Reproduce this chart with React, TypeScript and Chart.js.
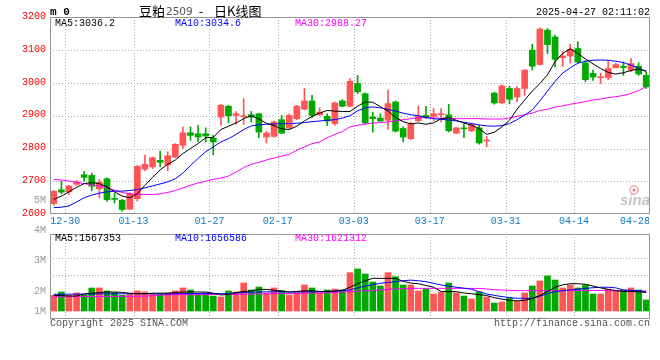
import React, { useEffect, useRef } from 'react';
import { Chart, registerables } from 'chart.js';
Chart.register(...registerables);

const dates = [
  '12-26','12-27','12-30','12-31','01-02','01-03','01-06','01-07','01-08','01-09','01-10','01-13','01-14','01-15','01-16','01-17','01-20','01-21','01-22','01-23','01-24','01-27',
  '02-05','02-06','02-07','02-10','02-11','02-12','02-13','02-14','02-17','02-18','02-19','02-20','02-21','02-24','02-25','02-26','02-27','02-28',
  '03-03','03-04','03-05','03-06','03-07','03-10','03-11','03-12','03-13','03-14','03-17','03-18','03-19','03-20','03-21','03-24','03-25','03-26','03-27','03-28','03-31',
  '04-01','04-02','04-03','04-07','04-08','04-09','04-10','04-11','04-14','04-15','04-16','04-17','04-18','04-21','04-22','04-23','04-24','04-25'
];

const openP = [
  2632,2674,2668,2691,2720,2718,2677,2708,2647,2642,
  2615,2647,2737,2744,2764,2750,2774,2810,2848,2845,
  2845,2832,2896,2929,2901,2897,2903,2906,2835,2837,
  2888,2863,2891,2920,2945,2903,2898,2876,2945,2929,
  2998,2967,2896,2893,2886,2942,2861,2830,2885,2901,
  2898,2903,2903,2847,2862,2854,2863,2823,2969,2939,
  2983,2957,2983,3100,3056,3161,3140,3077,3082,3105,
  3061,3029,3016,3016,3046,3051,3039,3051,3023
];
const highP = [
  2672,2700,2688,2702,2730,2725,2705,2711,2664,2645,
  2666,2749,2780,2774,2792,2790,2815,2866,2866,2871,
  2863,2840,2935,2932,2913,2952,2913,2908,2853,2884,
  2901,2906,2932,2983,2962,2924,2906,2942,2949,3013,
  3023,2970,2911,2906,2978,2945,2866,2881,2929,2929,
  2922,2922,2935,2864,2876,2878,2871,2837,2972,2994,
  2990,2989,3041,3118,3168,3166,3146,3095,3118,3125,
  3067,3039,3030,3067,3060,3064,3074,3062,3033
];
const lowP = [
  2627,2662,2660,2688,2700,2671,2650,2639,2634,2609,
  2614,2640,2732,2739,2744,2732,2772,2800,2825,2822,
  2820,2781,2871,2878,2874,2874,2881,2833,2817,2835,
  2845,2861,2888,2918,2894,2901,2870,2871,2927,2927,
  2967,2876,2850,2881,2858,2850,2820,2827,2882,2891,
  2884,2881,2851,2845,2833,2851,2813,2805,2935,2936,
  2936,2943,2962,3039,3054,3090,3049,3050,3061,3061,
  3004,3008,2998,3010,3046,3023,3034,3023,2983
];
const closeP = [
  2670,2667,2686,2698,2712,2685,2697,2644,2645,2614,
  2662,2746,2752,2772,2758,2778,2813,2848,2840,2835,
  2838,2820,2932,2900,2906,2900,2896,2850,2847,2881,
  2847,2901,2929,2945,2901,2911,2884,2939,2929,3005,
  2973,2878,2891,2884,2937,2853,2835,2876,2899,2894,
  2906,2906,2854,2863,2860,2873,2817,2826,2939,2991,
  2950,2983,3039,3051,3164,3117,3072,3082,3102,3064,
  3010,3018,3019,3044,3056,3047,3059,3027,2988
];

const ma5 = [
  2645,2655,2668,2682,2693,2696,2693,2683,2668,2655,2650,2662,2688,2712,2735,2752,2765,2785,2800,2815,2833,2834,
  2858,2868,2878,2891,2900,2890,2877,2870,2860,2858,2868,2884,2898,2908,2916,2914,2913,2913,2929,2942,2941,2928,2914,2895,2882,2875,
  2878,2874,2878,2891,2894,2886,2878,2871,2861,2843,2850,2866,2886,2920,2948,2975,2998,3025,3065,3090,3104,3090,3073,3058,3044,3032,3027,3031,3038,3042,3036.2
];
const ma10 = [
  2620,2621,2625,2637,2650,2658,2664,2668,2670,2670,2672,2675,2680,2686,2692,2698,2708,2725,2748,2770,2790,2805,
  2820,2830,2843,2858,2869,2872,2874,2875,2876,2876,2877,2879,2882,2884,2886,2888,2893,2900,2915,2924,2927,2924,2919,2914,2908,2903,
  2900,2895,2891,2889,2887,2884,2880,2876,2872,2869,2868,2870,2876,2888,2902,2918,2945,2975,3005,3030,3046,3060,3066,3069,3070,3069,3066,3062,3054,3045,3034.6
];
const ma30 = [
  2706,2704,2701,2697,2693,2689,2686,2680,2673,2666,2662,2660,2660,2660,2662,2666,2672,2680,2688,2695,2700,2706,
  2710,2716,2728,2742,2752,2758,2765,2771,2777,2782,2795,2805,2815,2820,2833,2843,2852,2866,2871,2874,2878,2879,2881,2884,2888,2891,
  2894,2894,2893,2892,2892,2891,2891,2891,2891,2890,2890,2890,2893,2898,2903,2908,2916,2920,2926,2930,2935,2939,2943,2948,2951,2955,2958,2962,2968,2977,2988.27
];

const volume = [
  1320000,1600000,1320000,1520000,1320000,1940000,1940000,1690000,1550000,1320000,
  1400000,1690000,1600000,1400000,1400000,1520000,1690000,1940000,1770000,1400000,
  1520000,1260000,1180000,1690000,1600000,2360000,1770000,2020000,1520000,1940000,
  1690000,1350000,1520000,2190000,1940000,1520000,1770000,1850000,1770000,3230000,
  3540000,3120000,2440000,2110000,3230000,2890000,2190000,2190000,1690000,1850000,
  1430000,1600000,2360000,1520000,1260000,1010000,1600000,1180000,670000,760000,
  1070000,810000,1520000,2110000,2530000,2950000,2610000,1940000,2190000,1940000,
  2190000,1430000,1430000,1850000,1690000,1770000,1940000,1770000,930000
];
const volMa5 = [
  1320000,1300000,1260000,1260000,1430000,1500000,1550000,1600000,1600000,1570000,
  1500000,1450000,1450000,1500000,1500000,1500000,1570000,1600000,1600000,1600000,
  1600000,1500000,1350000,1400000,1550000,1650000,1700000,1820000,1820000,1750000,
  1700000,1600000,1650000,1700000,1700000,1650000,
  1650000,1680000,1750000,2000000,2300000,2550000,2750000,2750000,2750000,2750000,
  2500000,2350000,2300000,2150000,2000000,1650000,1630000,1630000,1520000,1450000,
  1380000,1300000,1120000,1000000,900000,860000,900000,1050000,1300000,1650000,
  2000000,2200000,2300000,2300000,2250000,2100000,1950000,1820000,1720000,1650000,
  1650000,1620000,1567353
];
const volMa10 = [
  1400000,1410000,1420000,1420000,1430000,1430000,1440000,1440000,1450000,
  1450000,1450000,1460000,1460000,1450000,1440000,1440000,1450000,1460000,1470000,1480000,1480000,1470000,1460000,1470000,
  1520000,1550000,1580000,1600000,1620000,1620000,1620000,1600000,1600000,1620000,1620000,1620000,
  1630000,1660000,1720000,1770000,1950000,2100000,2220000,2330000,2400000,2470000,
  2550000,2600000,2550000,2470000,2330000,2190000,2100000,2000000,1920000,1830000,
  1630000,1430000,1320000,1210000,1140000,1070000,1070000,1070000,1250000,1450000,
  1630000,1700000,1770000,1840000,1910000,1960000,2000000,2000000,1950000,1770000,
  1740000,1710000,1656586
];
const volMa30 = [
  1200000,1200000,1210000,1210000,1210000,1220000,1220000,1220000,1220000,1230000,
  1230000,1240000,1250000,1280000,1330000,1360000,1370000,1380000,1380000,1380000,
  1380000,1390000,1390000,1390000,1400000,1410000,1420000,1440000,1450000,1460000,
  1470000,1480000,1490000,1500000,1510000,1530000,
  1540000,1560000,1600000,1620000,1660000,1700000,1720000,1780000,1820000,1860000,
  1880000,1900000,1910000,1910000,1910000,1910000,1910000,1910000,1910000,1900000,
  1900000,1850000,1800000,1770000,1730000,1710000,1710000,1710000,1710000,1710000,
  1710000,1730000,1730000,1730000,1730000,1730000,1730000,1710000,1700000,1680000,
  1650000,1630000,1621312
];

const priceTicks = [2600, 2700, 2800, 2900, 3000, 3100, 3200];
const xTickLabels = ['12-30', '01-13', '01-27', '02-17', '03-03', '03-17', '03-31', '04-14', '04-28'];
const volTickLabels = ['1M', '2M', '3M', '4M', '5M'];
const volTickValues = [1000000, 2000000, 3000000, 4000000, 5000000];
const volGridValues = [3000000, 4500000];

const TITLE_NAME = '豆粕';
const TITLE_CODE = '2509';
const TITLE_DASH = '-';
const TITLE_REST = '日K线图';
const TIME_TEXT = '2025-04-27 02:11:02';

const UP = '#FF5555';
const DOWN = '#00A800';
const MONO = '10px "Liberation Mono", "DejaVu Sans Mono", monospace';

const decor = {
  id: 'sinaDecor',
  beforeDraw(chart: any) {
    const ctx = chart.ctx;
    ctx.save();
    ctx.fillStyle = '#ffffff';
    ctx.fillRect(0, 0, chart.width, chart.height);
    ctx.restore();
  },
  beforeDatasetsDraw(chart: any) {
    const { ctx, chartArea: a, scales } = chart;
    const xs = scales.x, ys = scales.y, yv = scales.yv;
    const step = (a.right - a.left) / dates.length;
    const mainTop = Math.round(ys.getPixelForValue(priceTicks[priceTicks.length - 1]));
    const mainBottom = Math.round(ys.getPixelForValue(priceTicks[0])) - 1;
    const volTop = 234;
    const volBottom = a.bottom;
    ctx.save();
    ctx.strokeStyle = '#aaaaaa';
    ctx.lineWidth = 1;
    ctx.setLineDash([1, 2]);
    priceTicks.slice(1, -1).forEach((p) => {
      const y = Math.round(ys.getPixelForValue(p)) + 0.5;
      ctx.beginPath(); ctx.moveTo(a.left, y); ctx.lineTo(a.right, y); ctx.stroke();
    });
    volGridValues.forEach((v) => {
      const y = Math.round(yv.getPixelForValue(v)) + 0.5;
      ctx.beginPath(); ctx.moveTo(a.left, y); ctx.lineTo(a.right, y); ctx.stroke();
    });
    xTickLabels.forEach((lab) => {
      let idx = dates.indexOf(lab);
      if (idx < 0) idx = dates.length;
      if (idx >= dates.length) return;
      const gx = Math.round(xs.getPixelForValue(idx) - step / 2) + 0.5;
      ctx.beginPath(); ctx.moveTo(gx, mainTop); ctx.lineTo(gx, mainBottom); ctx.stroke();
      ctx.beginPath(); ctx.moveTo(gx, volTop); ctx.lineTo(gx, volBottom); ctx.stroke();
    });
    ctx.setLineDash([]);
    ctx.font = 'italic bold 15px "Liberation Sans", Arial, sans-serif';
    ctx.fillStyle = '#c6c6c6';
    ctx.textAlign = 'right';
    ctx.textBaseline = 'alphabetic';
    ctx.fillText('sina', a.right, mainBottom - 8);
    ctx.strokeStyle = '#f3a5a5';
    ctx.lineWidth = 1.5;
    ctx.beginPath(); ctx.arc(a.right - 16, mainBottom - 23, 4, 0, Math.PI * 2); ctx.stroke();
    ctx.fillStyle = '#ee7070';
    ctx.beginPath(); ctx.arc(a.right - 16, mainBottom - 23, 1.5, 0, Math.PI * 2); ctx.fill();
    ctx.restore();
  },
  afterDatasetsDraw(chart: any) {
    const { ctx, chartArea: a, scales } = chart;
    const xs = scales.x, ys = scales.y, yv = scales.yv;
    const step = (a.right - a.left) / dates.length;
    const mainTop = Math.round(ys.getPixelForValue(priceTicks[priceTicks.length - 1]));
    const mainBottom = Math.round(ys.getPixelForValue(priceTicks[0])) - 1;
    const volTop = 234;
    const volBottom = a.bottom;
    ctx.save();
    ctx.strokeStyle = '#959595';
    ctx.lineWidth = 1;
    ctx.strokeRect(a.left + 0.5, mainTop + 0.5, a.right - a.left - 1, mainBottom - mainTop);
    ctx.strokeRect(a.left + 0.5, volTop + 0.5, a.right - a.left - 1, volBottom - volTop);

    ctx.font = MONO;
    ctx.textBaseline = 'middle';
    ctx.fillStyle = '#FF0000';
    ctx.textAlign = 'right';
    priceTicks.forEach((p) => {
      ctx.fillText(String(p), a.left - 4, ys.getPixelForValue(p) - 1);
    });
    ctx.fillStyle = '#999999';
    const zeroY = yv.getPixelForValue(0);
    volTickValues.forEach((v, i) => {
      const y = Math.min(zeroY, zeroY + 40.5 - (v / 1000000) * 30.3);
      ctx.fillText(volTickLabels[i], a.left - 4, y);
    });
    ctx.fillStyle = '#0a7ccc';
    ctx.textAlign = 'center';
    xTickLabels.forEach((lab) => {
      let idx = dates.indexOf(lab);
      if (idx < 0) idx = dates.length;
      const gx = xs.getPixelForValue(0) - step / 2 + idx * step;
      const w = ctx.measureText(lab).width;
      const cx = Math.max(a.left + w / 2, Math.min(a.right - w / 2, gx));
      ctx.fillText(lab, cx, mainBottom + 8);
    });
    ctx.textAlign = 'left';
    const last = dates.length - 1;
    const legendY = mainTop + 6.5;
    ctx.fillStyle = '#000000'; ctx.fillText('MA5:' + ma5[last], a.left + 5, legendY);
    ctx.fillStyle = '#0000FF'; ctx.fillText('MA10:' + ma10[last], a.left + 125, legendY);
    ctx.fillStyle = '#FF00FF'; ctx.fillText('MA30:' + ma30[last], a.left + 245, legendY);
    const vLegY = volTop + 4.5;
    ctx.fillStyle = '#000000'; ctx.fillText('MA5:' + volMa5[last], a.left + 5, vLegY);
    ctx.fillStyle = '#0000FF'; ctx.fillText('MA10:' + volMa10[last], a.left + 125, vLegY);
    ctx.fillStyle = '#FF00FF'; ctx.fillText('MA30:' + volMa30[last], a.left + 245, vLegY);
    ctx.fillStyle = '#555555';
    ctx.fillText('Copyright 2025 SINA.COM', a.left, volBottom + 5.5);
    ctx.textAlign = 'right';
    ctx.fillText('http://finance.sina.com.cn', a.right, volBottom + 5.5);
    ctx.fillStyle = '#000000';
    ctx.textAlign = 'right';
    ctx.fillText(TIME_TEXT, a.right, 12);
    ctx.textAlign = 'left';
    ctx.font = 'bold 11px "Liberation Mono", "DejaVu Sans Mono", monospace';
    ctx.fillText('m 0', a.left, 12);
    // title pieces
    ctx.font = '13px "Noto Sans CJK SC", sans-serif';
    ctx.fillText(TITLE_NAME, 139, 11);
    const tx = 139 + ctx.measureText(TITLE_NAME).width + 1;
    ctx.font = '10.5px "DejaVu Sans", sans-serif';
    ctx.fillStyle = '#555555';
    ctx.fillText(TITLE_CODE, tx, 12);
    ctx.fillStyle = '#000000';
    ctx.font = '13px "Noto Sans CJK SC", sans-serif';
    ctx.textAlign = 'center';
    ctx.fillText(TITLE_DASH, 201, 11);
    ctx.textAlign = 'left';
    ctx.fillText(TITLE_REST, 214, 11);
    ctx.restore();
  },
};

export default function App() {
  const ref = useRef<HTMLCanvasElement>(null);
  useEffect(() => {
    const canvas = ref.current;
    if (!canvas) return;
    const colors = closeP.map((c, i) => (c >= openP[i] ? UP : DOWN));
    const line = (label: string, data: number[], color: string, axis: string) => ({
      type: 'line' as const,
      label,
      data,
      yAxisID: axis,
      borderColor: color,
      backgroundColor: color,
      borderWidth: 1,
      pointRadius: 0,
      tension: 0,
      fill: false,
      order: 0,
    });
    const chart = new Chart(canvas, {
      type: 'bar',
      data: {
        labels: dates,
        datasets: [
          line('MA5', ma5, '#000000', 'y'),
          line('MA10', ma10, '#0000FF', 'y'),
          line('MA30', ma30, '#FF00FF', 'y'),
          line('VMA5', volMa5, '#000000', 'yv'),
          line('VMA10', volMa10, '#0000FF', 'yv'),
          line('VMA30', volMa30, '#FF00FF', 'yv'),
          {
            type: 'bar',
            label: 'body',
            data: openP.map((o, i) => [o, closeP[i]]) as any,
            backgroundColor: colors,
            borderWidth: 0,
            barThickness: 6,
            minBarLength: 1,
            grouped: false,
            yAxisID: 'y',
            order: 1,
          },
          {
            type: 'bar',
            label: 'wick',
            data: lowP.map((l, i) => [l, highP[i]]) as any,
            backgroundColor: colors,
            borderWidth: 0,
            barThickness: 1,
            grouped: false,
            yAxisID: 'y',
            order: 2,
          },
          {
            type: 'bar',
            label: 'volume',
            data: volume,
            backgroundColor: colors,
            borderWidth: 0,
            barThickness: 6,
            grouped: false,
            yAxisID: 'yv',
            order: 2,
          },
        ] as any,
      },
      options: {
        responsive: false,
        animation: false,
        devicePixelRatio: 1,
        events: [],
        layout: { padding: { left: 50, right: 10, top: 17, bottom: 42 } },
        scales: {
          x: { type: 'category', offset: true, display: false },
          y: { type: 'linear', min: 3201 - 301 / 0.328, max: 3201, display: false },
          yv: { type: 'linear', min: -(7 / 11.87) * 1000000, max: (294 / 11.87) * 1000000, display: false },
        },
        plugins: { legend: { display: false }, tooltip: { enabled: false } },
      } as any,
      plugins: [decor],
    });
    return () => chart.destroy();
  }, []);
  return (
    <div style={{ position: 'absolute', left: 0, top: 0, width: 660, height: 360, background: '#fff' }}>
      <canvas ref={ref} width={660} height={360} style={{ display: 'block' }} />
    </div>
  );
}
